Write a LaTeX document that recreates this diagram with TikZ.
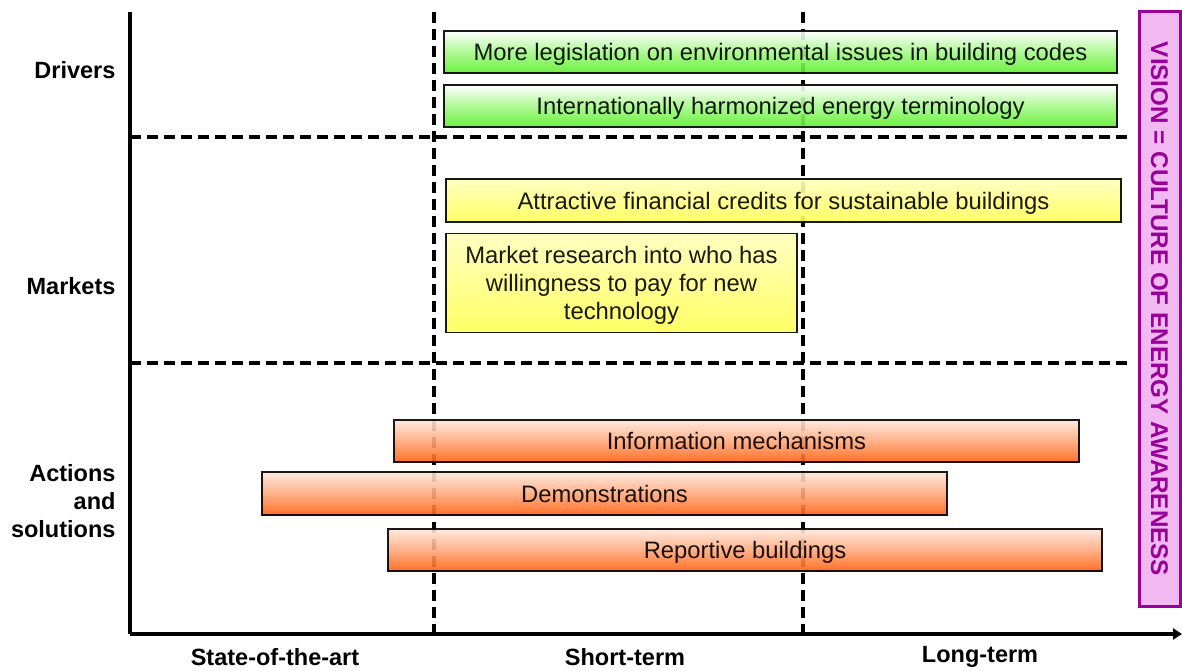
\documentclass[tikz,border=0pt]{standalone}
\usepackage{fontspec}
\setmainfont{Liberation Sans}
\usetikzlibrary{arrows.meta}
\definecolor{gbot}{HTML}{5CF02A}
\definecolor{ybot}{HTML}{FFFF55}
\definecolor{obot}{HTML}{FF6010}
\definecolor{vfill}{HTML}{F2B8F2}
\definecolor{vline}{HTML}{990099}
\tikzset{
  bar/.style={draw=black, line width=1.3pt, minimum height=42pt, inner sep=0pt,
     font=\fontsize{23.8}{28}\selectfont, text height=19pt, text depth=2pt},
  gbar/.style={bar, top color=white, bottom color=gbot, middle color=gbot!55!white},
  ybar/.style={bar, top color=white!60!ybot, bottom color=ybot},
  obar/.style={bar, top color=white!85!obot, bottom color=obot, middle color=obot!55!white},
  rowlab/.style={font=\fontsize{23.5}{28}\selectfont\bfseries, align=right, anchor=east},
  collab/.style={font=\fontsize{23.5}{28}\selectfont\bfseries},
  axisline/.style={line width=4pt},
  gridline/.style={line width=3.2pt, dash pattern=on 11pt off 6pt},
}
\begin{document}
\begin{tikzpicture}[x=1pt,y=-1pt]
\useasboundingbox (0,0) rectangle (1182,671);
% grid
\coordinate (t1) at (434,12); \coordinate (b1) at (434,634);
\coordinate (t2) at (803,12); \coordinate (b2) at (803,634);
\coordinate (h1l) at (130,137); \coordinate (h1r) at (1130,137);
\coordinate (h2l) at (130,363); \coordinate (h2r) at (1130,363);
\draw[gridline] (t1) -- (b1);
\draw[gridline] (t2) -- (b2);
\draw[gridline] (h1l) -- (h1r);
\draw[gridline] (h2l) -- (h2r);
% axes
\coordinate (origin) at (130,634);
\coordinate (ytop) at (130,12);
\coordinate (xend) at (1182,634);
\draw[axisline] (ytop) -- (origin);
\draw[axisline, -{Triangle[length=9pt,width=11pt]}] (origin) -- (xend);
% bars
\begin{scope}[opacity=0.9]
\node[gbar, minimum width=673pt] (g1) at (780.5,52) {More legislation on environmental issues in building codes};
\node[gbar, minimum width=673pt] (g2) at (780.5,106) {Internationally harmonized energy terminology};
\node[ybar, minimum width=675pt, minimum height=43pt] (y1) at (783.5,200.5) {Attractive financial credits for sustainable buildings};
\node[ybar, minimum width=351pt, minimum height=99pt, align=center, text height=, text depth=0.5pt] (y2) at (621.5,283) {Market research into who has\\willingness to pay for new\\technology};
\node[obar, minimum width=685pt] (o1) at (736.5,441) {Information mechanisms};
\node[obar, minimum width=685pt, minimum height=43pt] (o2) at (604.5,493.5) {Demonstrations};
\node[obar, minimum width=714pt] (o3) at (745,550) {Reportive buildings};
\end{scope}
% vision
\node[draw=vline, fill=vfill, line width=3pt, minimum width=594pt, minimum height=41pt,
  rotate=-90, text=vline, font=\fontsize{24.2}{28}\selectfont\bfseries, inner sep=0pt] (vis) at (1159.5,309) {VISION = CULTURE OF ENERGY AWARENESS};
% row labels
\node[rowlab] (ldrv) at (119,70) {Drivers};
\node[rowlab] (lmkt) at (119,286) {Markets};
\node[rowlab] (lact) at (119,501) {Actions\\and\\solutions};
% column labels
\node[collab] (c1) at (275,657) {State-of-the-art};
\node[collab] (c2) at (625,657) {Short-term};
\node[collab] (c3) at (980,657) {Long-term};
\end{tikzpicture}
\end{document}
